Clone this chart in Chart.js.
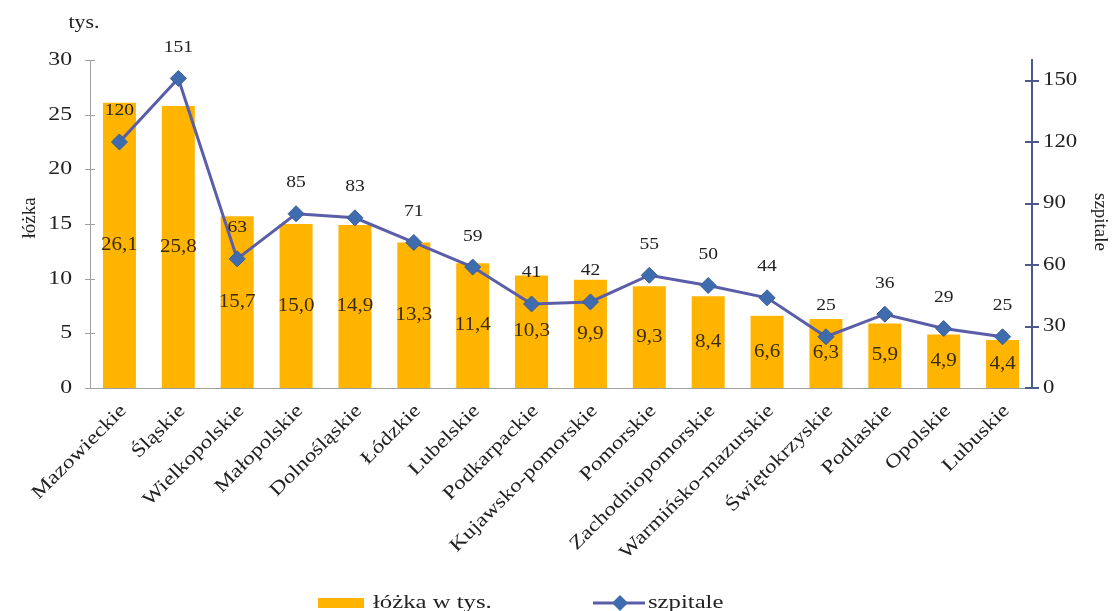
<!DOCTYPE html>
<html>
<head>
<meta charset="utf-8">
<script src="https://cdn.jsdelivr.net/npm/chart.js@4/dist/chart.umd.min.js"></script>
<style>
  html, body { margin: 0; padding: 0; background: #fff; }
  #wrap { width: 1118px; height: 611px; }
</style>
</head>
<body>
<div id="wrap"><canvas id="myChart"></canvas></div>
<script>
// województwa and their values
const regions = ['Mazowieckie', 'Śląskie', 'Wielkopolskie', 'Małopolskie', 'Dolnośląskie', 'Łódzkie',
    'Lubelskie', 'Podkarpackie', 'Kujawsko-pomorskie', 'Pomorskie', 'Zachodniopomorskie',
    'Warmińsko-mazurskie', 'Świętokrzyskie', 'Podlaskie', 'Opolskie', 'Lubuskie'];
const beds = [26.1, 25.8, 15.7, 15.0, 14.9, 13.3, 11.4, 10.3, 9.9, 9.3, 8.4, 6.6, 6.3, 5.9, 4.9, 4.4];
const hospitals = [120, 151, 63, 85, 83, 71, 59, 41, 42, 55, 50, 44, 25, 36, 29, 25];
const bedTicks = [0, 5, 10, 15, 20, 25, 30];
const hospitalTicks = [0, 30, 60, 90, 120, 150];

const SERIF = '"Liberation Serif", "Times New Roman", serif';
const TEXT = '#222';
const BAR_COLOR = '#FFB400';
const LINE_COLOR = '#5a5ea8';
const POINT_COLOR = '#3f6cae';
const LEFT_AXIS = '#a0a0a0';
const RIGHT_AXIS = '#4b5a8c';

// the source picture is a bit stretched sideways, so text gets a horizontal scale
function txt(ctx, s, x, y, size, sx, align, rot) {
    ctx.save();
    ctx.translate(x, y);
    if (rot) ctx.rotate(rot);
    ctx.scale(sx, 1);
    ctx.font = size + 'px ' + SERIF;
    ctx.textAlign = align || 'center';
    ctx.textBaseline = 'middle';
    ctx.fillText(s, 0, 0);
    ctx.restore();
}

const extras = {
    id: 'extras',
    afterDatasetsDraw(chart) {
        const ctx = chart.ctx;
        const area = chart.chartArea;
        const yL = chart.scales.y, yR = chart.scales.yR, x = chart.scales.x;
        ctx.save();

        // axis ticks crossing the axis lines
        ctx.lineWidth = 1;
        ctx.strokeStyle = LEFT_AXIS;
        bedTicks.forEach(v => {
            const py = Math.round(yL.getPixelForValue(v)) + 0.5;
            ctx.beginPath();
            ctx.moveTo(area.left - 5, py);
            ctx.lineTo(area.left + 5, py);
            ctx.stroke();
        });
        ctx.lineWidth = 2;
        ctx.strokeStyle = RIGHT_AXIS;
        hospitalTicks.forEach(v => {
            const py = Math.round(yR.getPixelForValue(v));
            ctx.beginPath();
            ctx.moveTo(area.right - 7, py);
            ctx.lineTo(area.right + 7, py);
            ctx.stroke();
        });

        ctx.fillStyle = TEXT;
        bedTicks.forEach(v => txt(ctx, String(v), area.left - 18, yL.getPixelForValue(v), 19, 1.25, 'right'));
        hospitalTicks.forEach(v => txt(ctx, String(v), area.right + 11, yR.getPixelForValue(v), 19, 1.2, 'left'));

        // category labels
        regions.forEach((r, i) => {
            txt(ctx, r, x.getPixelForValue(i) + 4, area.bottom + 20, 19, 1.22, 'right', -Math.PI / 4);
        });

        // bar values
        const barMeta = chart.getDatasetMeta(1);
        ctx.fillStyle = '#3b2c05';
        barMeta.data.forEach((bar, i) => {
            txt(ctx, beds[i].toFixed(1).replace('.', ','), bar.x, (bar.y + bar.base) / 2, 18, 1.17);
        });

        // hospital counts
        const lineMeta = chart.getDatasetMeta(0);
        ctx.fillStyle = TEXT;
        lineMeta.data.forEach((pt, i) => {
            txt(ctx, String(hospitals[i]), pt.x, pt.y - 31, 17, 1.15);
        });

        // titles
        txt(ctx, 'tys.', 84, 23, 19, 1.15);
        txt(ctx, 'łóżka', 30, 218, 19, 1, 'center', -Math.PI / 2);
        txt(ctx, 'szpitale', 1100, 222, 19, 1, 'center', Math.PI / 2);

        // legend
        ctx.fillStyle = BAR_COLOR;
        ctx.fillRect(318, 598, 46, 10);
        ctx.fillStyle = TEXT;
        txt(ctx, 'łóżka w tys.', 373, 603, 19, 1.3, 'left');
        ctx.strokeStyle = LINE_COLOR;
        ctx.lineWidth = 3;
        ctx.beginPath();
        ctx.moveTo(593, 603);
        ctx.lineTo(645, 603);
        ctx.stroke();
        ctx.fillStyle = POINT_COLOR;
        ctx.beginPath();
        ctx.moveTo(620, 595);
        ctx.lineTo(628, 603);
        ctx.lineTo(620, 611);
        ctx.lineTo(612, 603);
        ctx.closePath();
        ctx.fill();
        ctx.fillStyle = TEXT;
        txt(ctx, 'szpitale', 648, 603, 19, 1.3, 'left');
        ctx.restore();
    }
};

const ctx = document.getElementById('myChart').getContext('2d');
const myChart = new Chart(ctx, {
    data: {
        labels: regions,
        datasets: [{
            type: 'line',
            label: 'szpitale',
            data: hospitals,
            yAxisID: 'yR',
            borderColor: LINE_COLOR,
            borderWidth: 3,
            pointStyle: 'rectRot',
            pointRadius: 8,
            pointHoverRadius: 8,
            pointBackgroundColor: POINT_COLOR,
            pointBorderColor: '#3a5d94',
            pointBorderWidth: 1,
            tension: 0
        }, {
            type: 'bar',
            label: 'łóżka w tys.',
            data: beds,
            yAxisID: 'y',
            backgroundColor: BAR_COLOR,
            barPercentage: 0.56,
            categoryPercentage: 1
        }]
    },
    options: {
        responsive: true,
        maintainAspectRatio: false,
        animation: false,
        layout: { padding: { top: 60, left: 0, right: 0, bottom: 0 } },
        plugins: {
            legend: { display: false },
            tooltip: { enabled: false }
        },
        scales: {
            x: {
                grid: { display: false },
                border: { color: LEFT_AXIS, width: 1 },
                ticks: { display: false },
                afterFit(scale) { scale.height = 223; }
            },
            y: {
                position: 'left',
                min: 0,
                max: 30,
                grid: { display: false },
                border: { color: LEFT_AXIS, width: 1 },
                ticks: { display: false },
                afterFit(scale) { scale.width = 90; }
            },
            yR: {
                position: 'right',
                min: 0,
                max: 160,
                grid: { display: false },
                border: { color: RIGHT_AXIS, width: 2 },
                ticks: { display: false },
                afterFit(scale) { scale.width = 86; }
            }
        }
    },
    plugins: [extras]
});
</script>
</body>
</html>
